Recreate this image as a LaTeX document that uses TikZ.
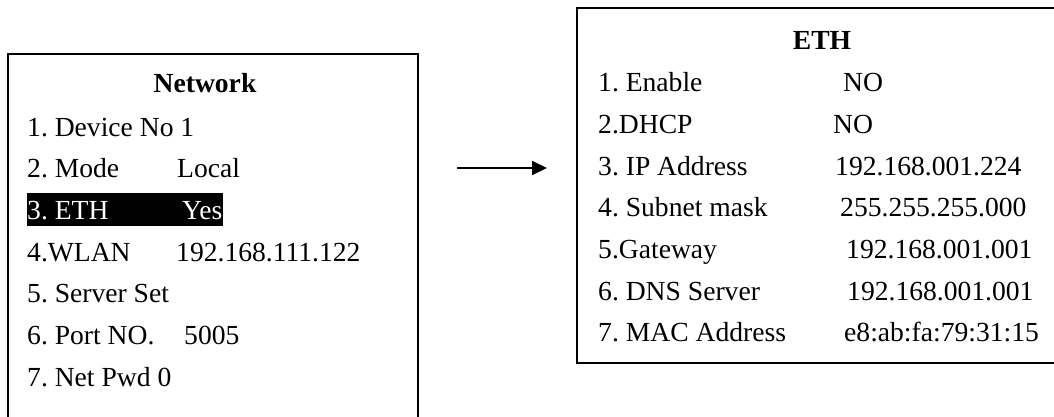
\documentclass[tikz,border=0pt]{standalone}
\usepackage{fontspec}
\setmainfont{Liberation Serif}
\usetikzlibrary{arrows.meta}
\frenchspacing
\tikzset{
  panel/.style={draw=black, line width=2pt, fill=none, inner sep=0pt, anchor=north west},
  txt/.style={inner sep=0pt, anchor=base west, font=\fontsize{27.6}{33}\selectfont},
  head/.style={inner sep=0pt, anchor=base, font=\fontsize{27.6}{33}\selectfont\bfseries},
  hilite/.style={fill=black, inner sep=0pt, anchor=north west},
  flow/.style={line width=2pt, -{Triangle[length=15pt,width=14pt]}}
}
\begin{document}
\begin{tikzpicture}[x=1pt,y=-1pt]
\useasboundingbox (0,0) rectangle (1054,417);
\clip (0,0) rectangle (1054,417);

% Network menu panel (runs off the lower edge)
\node[panel, minimum width=410pt, minimum height=400pt] (netbox) at (7,53) {};
\node[head] (nethead) at (205,93) {Network};
\node[txt] (n1) at (27,136) {1. Device No 1};
\node[txt] (n2) at (27,177.5) {2. Mode};
\node[txt] (n2v) at (177,177.5) {Local};
\node[hilite, minimum width=196pt, minimum height=33pt] (n3bg) at (27,193) {};
\node[txt, text=white] (n3) at (27,219) {3. ETH};
\node[txt, text=white] (n3v) at (182,219) {Yes};
\node[txt] (n4) at (27,261) {4.WLAN};
\node[txt] (n4v) at (176,261) {192.168.111.122};
\node[txt] (n5) at (27,302.5) {5. Server Set};
\node[txt] (n6) at (27,344) {6. Port NO.};
\node[txt] (n6v) at (184,344) {5005};
\node[txt] (n7) at (27,386) {7. Net Pwd 0};

% ETH submenu panel (runs off the right edge)
\node[panel, minimum width=520pt, minimum height=355pt] (ethbox) at (576,7) {};
\node[head] (ethhead) at (822,50) {ETH};
\node[txt] (e1) at (598,91.7) {1. Enable};
\node[txt] (e1v) at (843,91.7) {NO};
\node[txt] (e2) at (598,133.3) {2.DHCP};
\node[txt] (e2v) at (833,133.3) {NO};
\node[txt] (e3) at (598,175) {3. IP Address};
\node[txt] (e3v) at (835,175) {192.168.001.224};
\node[txt] (e4) at (598,216.7) {4. Subnet mask};
\node[txt] (e4v) at (840,216.7) {255.255.255.000};
\node[txt] (e5) at (598,258.3) {5.Gateway};
\node[txt] (e5v) at (846,258.3) {192.168.001.001};
\node[txt] (e6) at (598,300) {6. DNS Server};
\node[txt] (e6v) at (847,300) {192.168.001.001};
\node[txt] (e7) at (598,341.7) {7. MAC Address};
\node[txt] (e7v) at (844,341.7) {e8:ab:fa:79:31:15};

% transition arrow
\coordinate (arrfrom) at (457,168);
\coordinate (arrto) at (547,168);
\draw[flow] (arrfrom) -- (arrto);
\end{tikzpicture}
\end{document}
